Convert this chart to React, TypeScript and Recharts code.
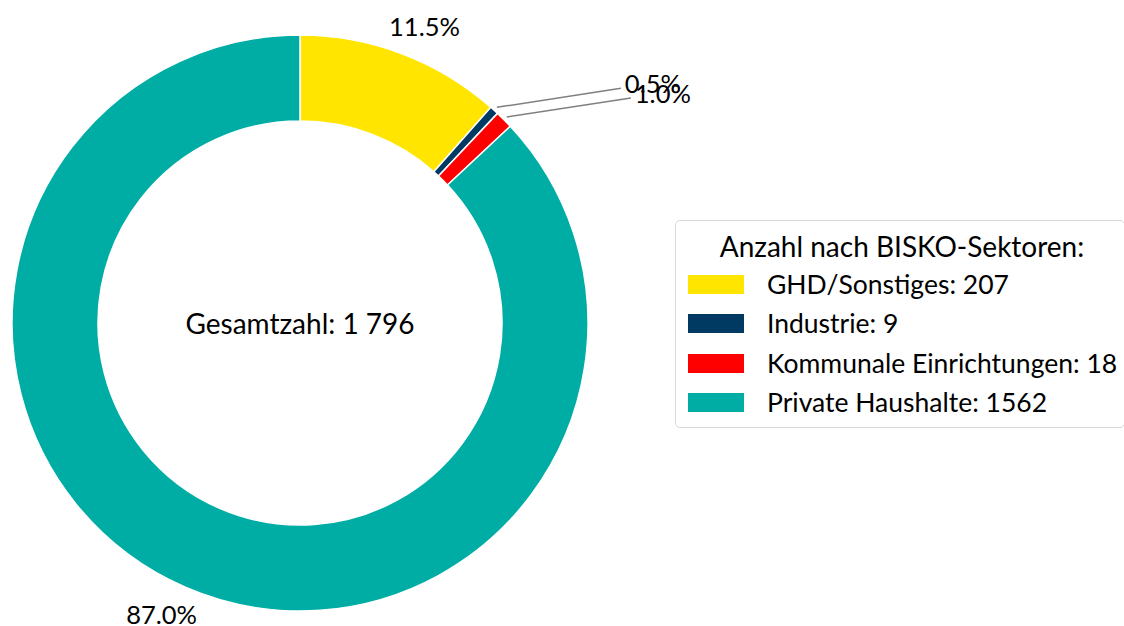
import { Cell, Legend, Pie, PieChart } from 'recharts';

const sectors = ['GHD/Sonstiges', 'Industrie', 'Kommunale Einrichtungen', 'Private Haushalte'];
const counts = [207, 9, 18, 1562];
const sectorColors = ['#FFE500', '#003A63', '#FF0000', '#00ADA5'];
const totalLabel = 'Gesamtzahl: 1 796';
const legendTitle = 'Anzahl nach BISKO-Sektoren:';

const data = sectors.map((name, i) => ({ name, value: counts[i] }));

const FONT = 'Lato, "Open Sans", sans-serif';
const RAD = Math.PI / 180;

// small slices get a leader line off to the upper right, the rest sit just outside the ring
function renderLabel(props: any) {
  const { cx, cy, midAngle, outerRadius, percent, index } = props;
  const text = `${(percent * 100).toFixed(1)}%`;
  // the total goes in the hole, drawn once with the first slice
  const centre =
    index === 0 ? (
      <text x={cx} y={cy} fill="#000" fontSize={28} fontFamily={FONT} textAnchor="middle" dominantBaseline="central">
        {totalLabel}
      </text>
    ) : null;
  if (percent < 0.02) {
    const cos = Math.cos(-midAngle * RAD);
    const sin = Math.sin(-midAngle * RAD);
    const sx = cx + (outerRadius + 4) * cos;
    const sy = cy + (outerRadius + 4) * sin;
    const ex = sx + 124;
    const ey = sy - 19;
    return (
      <g>
        <line x1={sx} y1={sy} x2={ex} y2={ey} stroke="#7f7f7f" strokeWidth={1.5} />
        <text x={ex + 4} y={ey - 5} fill="#000" fontSize={25.5} fontFamily={FONT} dominantBaseline="central">
          {text}
        </text>
      </g>
    );
  }
  // excel nudges these a couple of degrees clockwise
  const a = -(midAngle - 2) * RAD;
  const r = outerRadius + 34;
  return (
    <g>
      {centre}
      <text
        x={cx + r * Math.cos(a)}
        y={cy + r * Math.sin(a)}
        fill="#000"
        fontSize={25.5}
        fontFamily={FONT}
        textAnchor="middle"
        dominantBaseline="central"
      >
        {text}
      </text>
    </g>
  );
}

const rowCenters = [63, 102, 142, 181];

function LegendBox() {
  return (
    <div
      style={{
        position: 'relative',
        width: 450,
        height: 208,
        boxSizing: 'border-box',
        border: '1px solid #d9d9d9',
        borderRadius: 5,
        background: '#fff',
        fontFamily: FONT,
        color: '#000',
        fontSize: 26.5,
      }}
    >
      <div
        style={{ position: 'absolute', left: 0, width: 452, top: 7, textAlign: 'center', lineHeight: '36px', fontSize: 28, whiteSpace: 'nowrap' }}
      >
        {legendTitle}
      </div>
      {sectors.map((s, i) => (
        <div
          key={s}
          style={{
            position: 'absolute',
            left: 12,
            top: rowCenters[i] - 20,
            height: 40,
            display: 'flex',
            alignItems: 'center',
            whiteSpace: 'nowrap',
          }}
        >
          <span style={{ display: 'inline-block', width: 56, height: 19, background: sectorColors[i] }} />
          <span style={{ marginLeft: 23 }}>
            {s}: {counts[i]}
          </span>
        </div>
      ))}
    </div>
  );
}

export default function App() {
  return (
    <div style={{ position: 'absolute', left: 0, top: 0, width: 1124, height: 626, overflow: 'hidden', background: '#fff' }}>
      <PieChart width={1124} height={626} margin={{ top: 0, right: 0, bottom: 0, left: 0 }}>
        <Pie
          data={data}
          dataKey="value"
          nameKey="name"
          cx={300}
          cy={323}
          innerRadius={202}
          outerRadius={288}
          startAngle={90}
          endAngle={-270}
          stroke="#fff"
          strokeWidth={1.5}
          label={renderLabel}
          labelLine={false}
          isAnimationActive={false}
        >
          {data.map((d, i) => (
            <Cell key={d.name} fill={sectorColors[i]} />
          ))}
        </Pie>
        <Legend content={() => <LegendBox />} wrapperStyle={{ position: 'absolute', left: 675, top: 220, width: 450, height: 208 }} />
      </PieChart>
    </div>
  );
}
